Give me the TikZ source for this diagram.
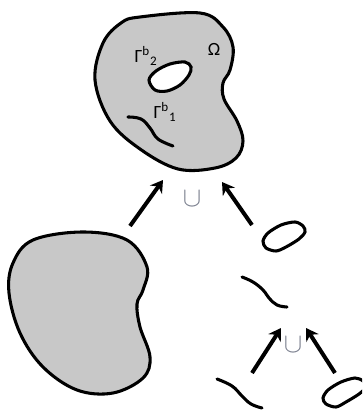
\documentclass[tikz,border=0pt]{standalone}
\usepackage{fontspec}
\setmainfont{Carlito}
\usetikzlibrary{arrows.meta}
\definecolor{blobgray}{RGB}{200,200,200}
\definecolor{cupcol}{RGB}{120,125,140}
\tikzset{
  blob/.style={draw=black, line width=2.3pt, fill=blobgray},
  hole/.style={draw=black, line width=2.3pt, fill=white},
  wave/.style={draw=black, line width=2.3pt, line cap=round},
  arr/.style={draw=black, line width=3pt, -{Stealth[length=9pt,width=11pt,inset=3pt]}},
  lab/.style={font=\fontsize{14}{14}\selectfont, inner sep=0pt},
  cupl/.style={text=cupcol, font=\fontsize{22}{22}\selectfont, inner sep=0pt}
}
\begin{document}
\begin{tikzpicture}[x=0.75pt,y=-0.75pt]
\useasboundingbox (0,0) rectangle (362,410);
\clip (0,0) rectangle (362,410);
% top domain Omega
\draw[blob] plot[smooth cycle, tension=0.6] coordinates {(140,17) (200,13) (223,27) (233,47) (230,70) (223,83) (224,99) (237,121) (243,141) (236,158) (215,168) (178,169) (140,149) (110,121) (95,80) (103,43) (121,23)};
\draw[hole] plot[smooth cycle, tension=0.55] coordinates {(149,80) (156,71) (170,64) (185,62) (191,67) (189,75) (180,85) (167,91) (155,90)};
\draw[wave] plot[smooth, tension=0.7] coordinates {(128,117) (141,119) (150,128) (158,139) (173,146)};
\node[lab] (g2) at (146,56) {Γ\textsuperscript{b}\textsubscript{2}};
\node[lab] (om) at (214,49) {Ω};
\node[lab] (g1) at (165,112) {Γ\textsuperscript{b}\textsubscript{1}};
% left domain
\draw[blob] plot[smooth cycle, tension=0.6] coordinates {(33,240) (83,232) (127,240) (147,267) (143,290) (137,304) (140,327) (150,357) (143,378) (113,393) (77,390) (43,367) (20,333) (9,293) (13,263)};
% upper right loop
\draw[hole] plot[smooth cycle, tension=0.5] coordinates {(263,241) (268,233) (281,225) (295,222) (303,226) (305,232) (299,239) (286,247) (276,251) (266,248)};
% mid wave
\draw[wave] plot[smooth, tension=0.7] coordinates {(242,277) (253,282) (263,290) (269,298) (277,305) (287,307)};
% bottom wave
\draw[wave] plot[smooth, tension=0.7] coordinates {(217,379) (232,386) (242,396) (251,404) (262,408)};
% bottom right loop
\draw[hole] plot[smooth cycle, tension=0.5] coordinates {(323,398) (328,390) (341,382) (355,378) (363,381) (366,387) (359,394) (346,402) (336,407) (326,404)};
% arrows
\coordinate (a1s) at (130,226); \coordinate (a1e) at (163,180);
\coordinate (a2s) at (252,225); \coordinate (a2e) at (222,182);
\coordinate (a3s) at (252,373); \coordinate (a3e) at (281,328);
\coordinate (a4s) at (335,373); \coordinate (a4e) at (306,328);
\draw[arr] (a1s) -- (a1e);
\draw[arr] (a2s) -- (a2e);
\draw[arr] (a3s) -- (a3e);
\draw[arr] (a4s) -- (a4e);
\node[cupl] (u1) at (192,199) {$\cup$};
\node[cupl] (u2) at (293,345) {$\cup$};
\end{tikzpicture}
\end{document}
